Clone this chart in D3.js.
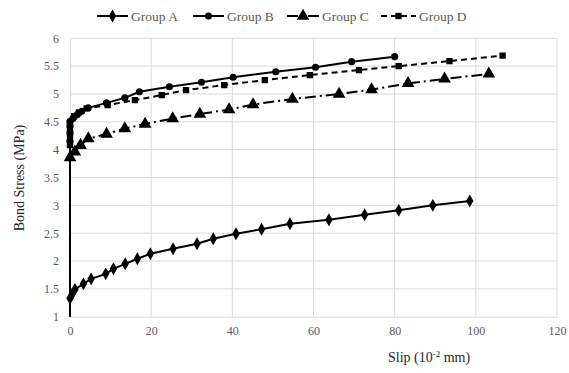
<!DOCTYPE html>
<html><head><meta charset="utf-8">
<script src="https://cdn.jsdelivr.net/npm/d3@7"></script>
<style>body{margin:0;background:#fff}svg{display:block}</style>
</head><body><svg id="c" width="569" height="373" style="font-family:'Liberation Serif'"></svg>
<script>
const seriesNames = ["Group A","Group B","Group C","Group D"];
const xTicks = [0,20,40,60,80,100,120];
const yTicks = [1,1.5,2,2.5,3,3.5,4,4.5,5,5.5,6];

const groupA_x = [0,0.5,1.2,3.3,5.2,8.8,10.7,13.6,16.6,19.8,25.4,31.3,35.3,40.9,47.2,54.2,63.8,72.6,81.0,89.4,98.5];
const groupA_y = [1.33,1.40,1.49,1.59,1.68,1.77,1.86,1.95,2.04,2.13,2.22,2.31,2.40,2.49,2.57,2.67,2.74,2.83,2.91,3.00,3.08];

const groupB_x = [0,0,0,0,0,0.7,1.8,2.9,4.5,9.0,13.5,17.1,24.5,32.4,40.2,50.7,60.5,69.4,80.0];
const groupB_y = [0,4.15,4.3,4.42,4.5,4.56,4.63,4.69,4.75,4.84,4.93,5.04,5.13,5.21,5.30,5.40,5.48,5.58,5.67];

const groupC_x = [0,0,1.2,2.6,4.5,9.0,13.5,18.5,25.3,32.0,39.2,45.1,54.8,66.3,74.3,83.3,92.3,103.2];
const groupC_y = [0,3.86,3.96,4.08,4.20,4.28,4.38,4.46,4.56,4.64,4.72,4.81,4.91,5.00,5.08,5.19,5.27,5.36];

const groupD_x = [0,0,0,0,0,0,1.0,2.2,4.1,9.3,16.0,22.6,28.6,38.0,48.0,59.1,71.2,81.0,93.5,106.6];
const groupD_y = [0,4.08,4.2,4.3,4.4,4.5,4.6,4.67,4.74,4.80,4.89,4.98,5.07,5.16,5.25,5.34,5.43,5.50,5.59,5.69];

const svg = d3.select("#c");
const m = {l:70, r:557, t:38.3, b:316.7};
const x = d3.scaleLinear().domain([0,120]).range([m.l, m.r]);
const y = d3.scaleLinear().domain([1,6]).range([m.b, m.t]);
const font = "Liberation Serif";

function serif(sel, size){
  sel.attr("font-family", font).style("font-family", font).style("font-size", size+"px");
  return sel;
}

// gridlines
svg.append("g").selectAll("line").data(yTicks.slice(1)).join("line")
  .attr("x1", m.l).attr("x2", m.r).attr("y1", d=>y(d)).attr("y2", d=>y(d))
  .attr("stroke","#d9d9d9").attr("stroke-width",1);
svg.append("g").selectAll("line").data(xTicks.slice(1)).join("line")
  .attr("x1", d=>x(d)).attr("x2", d=>x(d)).attr("y1", m.t).attr("y2", m.b)
  .attr("stroke","#d9d9d9").attr("stroke-width",1);

// axes
const xAxis = svg.append("g").attr("transform",`translate(0,${m.b})`)
  .call(d3.axisBottom(x).tickValues(xTicks).tickSize(0).tickPadding(10));
const yAxis = svg.append("g").attr("transform",`translate(${m.l},0)`)
  .call(d3.axisLeft(y).tickValues(yTicks).tickSize(0).tickPadding(11).tickFormat(d3.format("")));
[xAxis,yAxis].forEach(a=>{
  a.attr("font-family", font).attr("font-size", 12);
  a.select(".domain").attr("stroke","#d9d9d9");
  serif(a.selectAll("text"), 12).attr("fill","#595959");
});

svg.append("defs").append("clipPath").attr("id","clip")
  .append("rect").attr("x",m.l-10).attr("y",m.t-10).attr("width",m.r-m.l+20).attr("height",m.b-m.t+10);

const series = [
  {name:seriesNames[0], xs:groupA_x, ys:groupA_y, dash:null, marker:d3.symbolDiamond, size:48},
  {name:seriesNames[1], xs:groupB_x, ys:groupB_y, dash:null, marker:d3.symbolCircle, size:40},
  {name:seriesNames[2], xs:groupC_x, ys:groupC_y, dash:"11,4,2,4", marker:d3.symbolTriangle, size:70},
  {name:seriesNames[3], xs:groupD_x, ys:groupD_y, dash:"6,4", marker:d3.symbolSquare, size:40},
];

const line = d3.line().x(d=>x(d[0])).y(d=>y(d[1]));
const g = svg.append("g").attr("clip-path","url(#clip)");
series.forEach(s=>{
  const pts = s.xs.map((v,i)=>[v, s.ys[i]]);
  g.append("path").datum(pts).attr("d", line).attr("fill","none")
    .attr("stroke","#000").attr("stroke-width",2).attr("stroke-dasharray", s.dash);
  g.selectAll(null).data(pts.filter(p=>p[1]>=1)).join("path")
    .attr("d", d3.symbol().type(s.marker).size(s.size))
    .attr("transform", d=>`translate(${x(d[0])},${y(d[1])})`)
    .attr("fill","#000");
});

// legend
const legendPos = [{lx:97, tx:131},{lx:193, tx:227},{lx:287, tx:322},{lx:381, tx:419}];
const ly = 16;
series.forEach((s,i)=>{
  const p = legendPos[i];
  const lg = svg.append("g");
  lg.append("line").attr("x1",p.lx).attr("x2",p.tx-3).attr("y1",ly).attr("y2",ly)
    .attr("stroke","#000").attr("stroke-width",2).attr("stroke-dasharray", s.dash);
  lg.append("path").attr("d", d3.symbol().type(s.marker).size(s.size))
    .attr("transform",`translate(${(p.lx+p.tx-3)/2},${ly})`).attr("fill","#000");
  serif(lg.append("text").attr("x",p.tx).attr("y",ly+4.5).text(s.name), 13.5).attr("fill","#595959");
});

// axis titles
serif(svg.append("text").attr("transform","translate(24,178) rotate(-90)").attr("text-anchor","middle"), 14)
  .attr("fill","#262626").text("Bond Stress (MPa)");
const xt = serif(svg.append("text").attr("x",388).attr("y",362), 14).attr("fill","#262626");
xt.append("tspan").text("Slip  (10");
xt.append("tspan").attr("dy",-5).style("font-size","9px").text("-2");
xt.append("tspan").attr("dy",5).text(" mm)");
</script></body></html>
